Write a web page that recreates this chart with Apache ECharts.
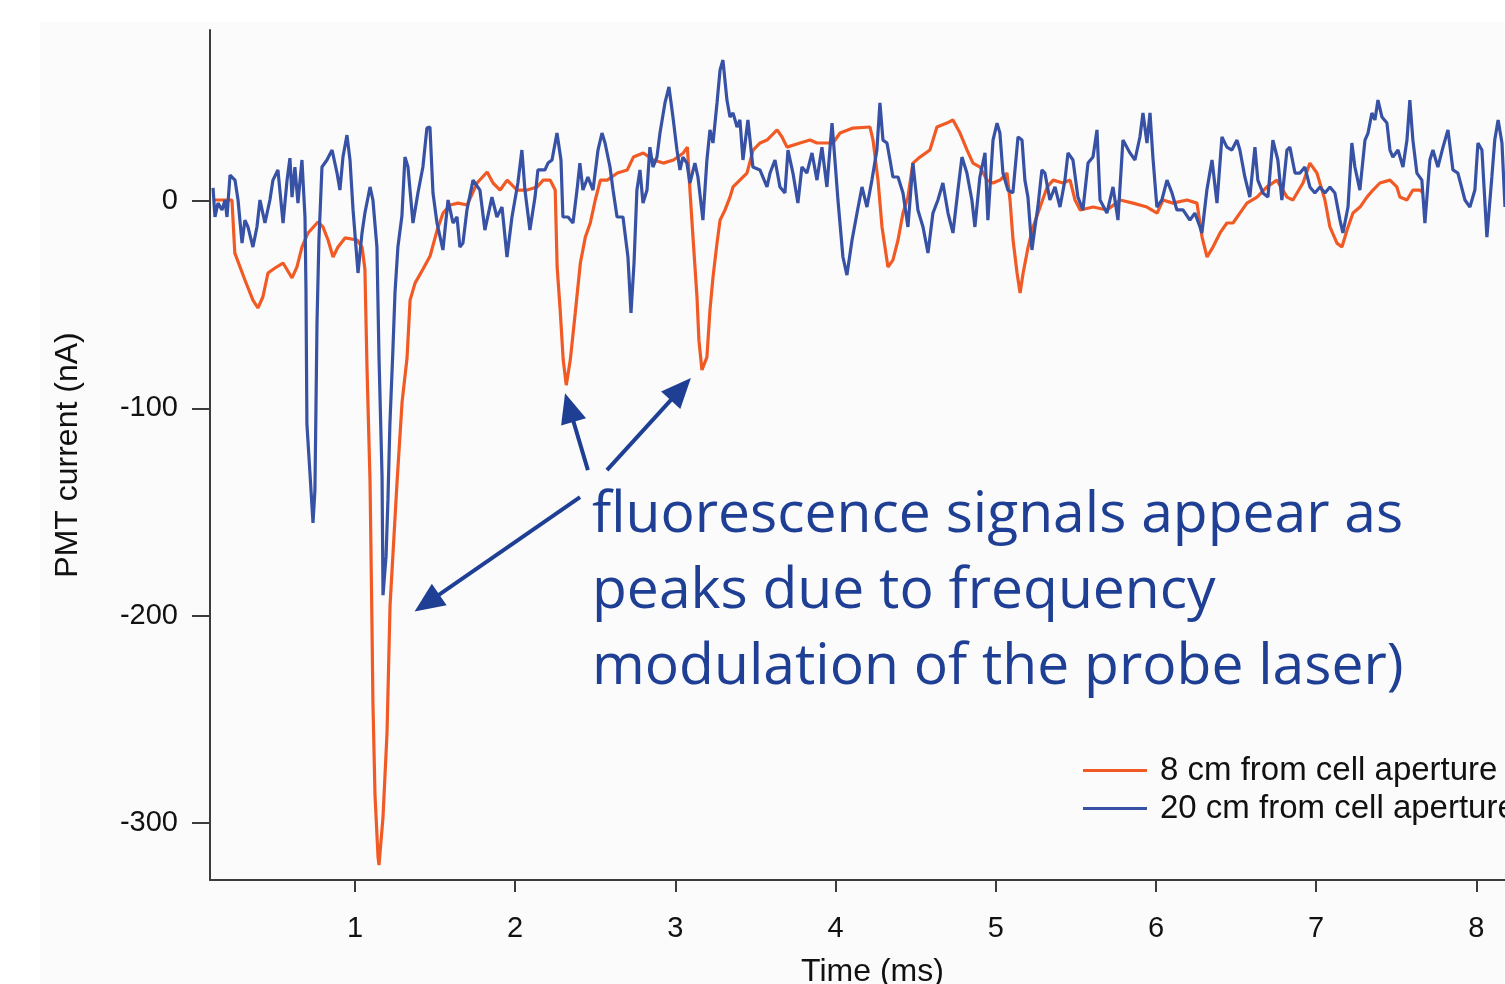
<!DOCTYPE html>
<html>
<head>
<meta charset="utf-8">
<title>PMT current vs time</title>
<script src="https://cdn.jsdelivr.net/npm/echarts@6/dist/echarts.min.js"></script>
<style>
  html, body { margin: 0; padding: 0; background: #fff; }
  .panel { position: absolute; left: 40px; top: 22px; right: 0; bottom: 0; background: #fbfbfb; }
  #chart { position: absolute; left: 0; top: 0; width: 1505px; height: 984px; }
</style>
</head>
<body>
<div class="panel"></div>
<div id="chart"></div>
<script>
// data (time in ms, current in nA)
const seriesNames = ['8 cm from cell aperture', '20 cm from cell aperture'];

const orangeTime = [0.126,0.232,0.250,0.313,0.363,0.394,0.425,0.457,0.501,0.551,
  0.607,0.638,0.669,0.707,0.769,0.800,0.832,0.863,0.894,0.938,
  1.013,1.044,1.062,1.075,1.094,1.106,1.112,1.125,1.144,1.150,
  1.175,1.200,1.219,1.263,1.294,1.325,1.344,1.375,1.425,1.469,
  1.513,1.550,1.594,1.644,1.700,1.762,1.825,1.862,1.906,1.950,
  2.012,2.075,2.137,2.175,2.218,2.250,2.262,2.281,2.300,2.319,
  2.344,2.375,2.407,2.438,2.469,2.500,2.532,2.575,2.638,2.700,
  2.738,2.800,2.863,2.925,2.988,3.050,3.075,3.091,3.110,3.135,
  3.147,3.166,3.197,3.216,3.235,3.260,3.279,3.310,3.341,3.360,
  3.447,3.485,3.529,3.572,3.635,3.666,3.697,3.778,3.841,3.884,
  3.984,4.028,4.109,4.215,4.234,4.265,4.290,4.327,4.358,4.390,
  4.421,4.452,4.483,4.527,4.589,4.633,4.695,4.733,4.777,4.821,
  4.858,4.902,4.945,4.983,5.027,5.070,5.089,5.108,5.133,5.152,
  5.171,5.202,5.233,5.277,5.321,5.358,5.420,5.464,5.495,5.527,
  5.608,5.695,5.776,5.857,5.944,6.007,6.044,6.106,6.194,6.256,
  6.288,6.319,6.356,6.400,6.443,6.481,6.524,6.568,6.631,6.693,
  6.755,6.818,6.855,6.918,6.961,7.005,7.055,7.086,7.130,7.161,
  7.193,7.230,7.274,7.317,7.355,7.398,7.461,7.504,7.523,7.567,
  7.604,7.648,7.667];
const orangeCurrent = [0.5,0.5,-25.1,-38.1,-47.8,-51.6,-46.3,-34.7,-32.3,-29.9,
  -37.1,-31.8,-22.2,-15.4,-10.1,-12.5,-18.8,-27.0,-22.2,-17.8,
  -18.8,-22.2,-32.8,-80.1,-135.1,-203.6,-241.7,-286.5,-316.4,-320.3,
  -297.2,-256.6,-194.9,-135.1,-97.0,-75.7,-47.8,-39.6,-32.8,-26.5,
  -14.0,-5.8,-1.9,-1.0,-1.9,8.7,14.0,8.7,5.3,10.1,
  5.3,5.3,6.8,10.1,10.1,5.3,-31.8,-52.6,-76.7,-88.8,
  -76.7,-54.0,-29.9,-17.4,-10.6,0.5,10.1,10.1,13.5,15.0,
  21.2,23.2,19.8,18.3,19.8,23.2,26.0,5.3,-17.4,-46.3,
  -67.1,-81.5,-75.3,-52.6,-36.7,-20.3,-9.2,-4.3,1.9,6.8,
  13.5,24.6,28.0,29.4,34.3,30.9,26.0,28.0,29.4,28.0,
  28.0,32.8,35.2,35.7,29.4,10.1,-12.5,-31.8,-28.5,-18.8,
  -5.8,1.9,18.3,21.2,24.6,35.7,37.6,39.1,32.8,24.6,
  18.3,16.4,10.1,8.7,10.1,13.5,0.5,-18.8,-34.7,-44.4,
  -34.7,-22.2,-12.5,-2.9,6.8,10.1,8.7,10.1,0.5,-4.3,
  -2.9,-4.3,0.5,-1.0,-2.9,-5.8,0.5,-1.0,0.5,-1.0,
  -17.4,-27.0,-22.2,-15.4,-10.6,-10.6,-5.8,-1.0,1.9,6.8,
  10.1,1.9,0.5,8.7,18.3,13.5,0.5,-12.5,-20.3,-22.2,
  -14.0,-5.8,-2.9,1.9,5.3,8.7,10.1,6.8,1.9,0.5,
  5.3,5.3,3.9];

const blueTime = [0.114,0.126,0.145,0.170,0.189,0.201,0.220,0.251,0.270,0.295,
  0.313,0.332,0.363,0.388,0.407,0.438,0.469,0.488,0.519,0.551,
  0.576,0.594,0.607,0.625,0.644,0.669,0.688,0.694,0.700,0.719,
  0.738,0.750,0.757,0.763,0.775,0.794,0.825,0.857,0.888,0.906,
  0.925,0.950,0.969,0.988,1.019,1.044,1.062,1.094,1.112,1.137,
  1.150,1.169,1.175,1.194,1.206,1.218,1.237,1.250,1.268,1.293,
  1.312,1.331,1.362,1.393,1.424,1.449,1.468,1.487,1.512,1.549,
  1.581,1.612,1.637,1.655,1.674,1.699,1.737,1.780,1.811,1.855,
  1.886,1.918,1.949,1.980,2.017,2.042,2.061,2.092,2.124,2.142,
  2.186,2.205,2.230,2.261,2.286,2.298,2.330,2.361,2.386,2.404,
  2.423,2.454,2.486,2.517,2.542,2.561,2.592,2.611,2.636,2.673,
  2.704,2.723,2.742,2.760,2.779,2.798,2.823,2.841,2.860,2.885,
  2.904,2.935,2.960,2.985,3.010,3.029,3.047,3.072,3.091,3.122,
  3.141,3.172,3.197,3.216,3.235,3.260,3.279,3.297,3.322,3.341,
  3.360,3.385,3.403,3.422,3.453,3.484,3.528,3.572,3.591,3.622,
  3.653,3.684,3.703,3.734,3.765,3.790,3.821,3.853,3.884,3.915,
  3.946,3.978,3.996,4.015,4.046,4.071,4.103,4.134,4.165,4.196,
  4.227,4.258,4.277,4.296,4.321,4.340,4.358,4.390,4.421,4.452,
  4.483,4.514,4.546,4.577,4.608,4.639,4.670,4.702,4.733,4.764,
  4.789,4.820,4.851,4.870,4.901,4.933,4.951,4.983,5.008,5.026,
  5.045,5.076,5.107,5.139,5.164,5.182,5.201,5.226,5.245,5.263,
  5.288,5.307,5.338,5.370,5.401,5.432,5.451,5.482,5.513,5.544,
  5.576,5.607,5.632,5.651,5.694,5.732,5.763,5.794,5.838,5.869,
  5.900,5.919,5.944,5.963,5.981,6.006,6.037,6.069,6.100,6.131,
  6.169,6.212,6.243,6.275,6.287,6.318,6.350,6.381,6.412,6.443,
  6.474,6.506,6.524,6.555,6.586,6.618,6.636,6.668,6.699,6.730,
  6.761,6.786,6.818,6.836,6.868,6.899,6.930,6.961,6.992,7.024,
  7.055,7.086,7.117,7.149,7.167,7.199,7.223,7.242,7.273,7.305,
  7.324,7.348,7.367,7.386,7.411,7.442,7.461,7.479,7.511,7.542,
  7.567,7.585,7.604,7.629,7.660,7.679,7.710,7.729,7.760,7.792,
  7.823,7.854,7.885,7.929,7.960,7.991,8.010,8.035,8.066,8.097,
  8.115,8.136,8.160,8.179];
const blueCurrent = [6.3,-7.7,-1.0,-4.3,0.5,-7.7,12.5,10.1,0.5,-20.3,
  -9.2,-12.5,-22.2,-12.5,0.5,-10.6,0.5,10.1,15.0,-10.6,
  10.1,20.7,1.9,16.4,-1.0,19.8,-7.7,-42.0,-107.6,-131.3,
  -155.3,-139.4,-96.5,-58.4,-18.8,16.4,19.8,24.6,13.5,5.3,
  21.2,31.8,19.8,-4.3,-34.7,-15.4,-5.8,6.8,0.5,-22.2,
  -75.3,-132.7,-190.1,-171.3,-143.8,-107.6,-71.4,-43.9,-22.2,-7.2,
  21.2,16.4,-10.6,3.9,16.4,35.2,35.7,3.9,-10.6,-23.6,
  0.5,-10.6,-7.7,-22.2,-20.3,-4.3,10.1,5.3,-14.0,1.9,
  -7.7,-2.9,-27.0,-7.7,8.7,24.6,5.3,-14.0,1.9,15.0,
  15.0,18.3,19.8,32.8,19.8,-7.7,-7.7,-10.6,5.3,18.3,
  5.3,11.6,5.3,24.6,32.8,28.0,16.4,5.3,-7.7,-7.7,
  -27.0,-54.0,-29.9,5.3,15.0,-1.0,5.3,26.0,16.4,21.2,
  32.8,47.3,55.0,40.5,24.6,15.0,21.2,18.3,8.7,18.3,
  11.6,-9.2,19.8,34.3,28.0,47.3,63.2,68.0,48.7,40.5,
  42.5,35.7,39.1,19.8,39.1,16.4,15.0,6.8,13.5,19.8,
  6.8,3.9,24.6,13.5,-1.0,16.4,13.5,23.2,10.1,26.0,
  6.8,37.6,19.8,0.5,-27.0,-35.7,-18.8,-5.8,6.8,-2.9,
  10.1,24.6,47.3,29.4,28.0,19.8,11.6,11.6,3.9,-12.5,
  18.3,-4.3,-12.5,-25.1,-5.8,0.5,8.7,-5.8,-15.4,5.3,
  21.2,13.5,0.5,-12.5,11.6,23.2,-9.2,29.4,37.6,32.8,
  13.5,5.3,3.9,30.9,29.4,10.1,1.9,-23.6,-12.5,-2.9,
  15.0,13.5,0.5,6.8,-2.9,10.1,23.2,19.8,1.9,-4.3,
  18.3,21.2,34.3,0.5,-5.8,6.8,-9.2,29.4,23.2,19.8,
  30.9,42.5,28.0,42.5,21.2,-2.9,0.5,10.1,3.9,-4.3,
  -4.3,-9.2,-5.8,-12.5,-15.4,5.3,19.8,-1.0,30.9,26.0,
  24.6,29.4,24.6,11.6,1.9,26.0,10.1,3.9,1.9,29.4,
  19.8,0.5,24.6,26.0,13.5,13.5,16.4,6.8,3.9,6.8,
  3.9,6.8,3.9,-9.2,-15.4,-2.9,28.0,16.4,5.3,29.4,
  32.8,42.5,39.1,48.7,40.5,37.6,24.6,21.2,24.6,16.4,
  29.4,48.7,29.4,13.5,10.1,-10.6,19.8,24.6,16.4,26.0,
  34.3,15.0,13.5,0.5,-2.9,5.3,28.0,24.6,-17.4,11.6,
  29.4,39.1,28.0,-2.9];

const xTicks = [1, 2, 3, 4, 5, 6, 7, 8];
const yTicks = [-300, -200, -100, 0];

const noteLines = ['fluorescence signals appear as', 'peaks due to frequency', 'modulation of the probe laser)'];

// annotation arrows: [from, to] in (ms, nA)
const arrows = [
  [[2.405, -142.8], [1.449, -193.9]],
  [[2.454, -129.8], [2.338, -99.6]],
  [[2.573, -129.8], [3.034, -90.7]]
];

const axisColor = '#3c3c3c';
const textColor = '#111';
const noteColor = '#1e3f94';
const orange = '#f15a24';
const blue = '#3752a5';
const font = '"Liberation Sans", Arial, sans-serif';

const pairs = (ts, vs) => ts.map((t, i) => [t, vs[i]]);

const chartInstance = echarts.init(document.getElementById('chart'));
const option = {
  animation: false,
  backgroundColor: 'transparent',
  grid: { left: 210, right: 0, top: 30, bottom: 104, containLabel: false, outerBoundsMode: 'none' },
  legend: {
    data: seriesNames,
    orient: 'vertical',
    left: 1083,
    top: 754,
    padding: 0,
    icon: 'rect',
    itemWidth: 64,
    itemHeight: 3,
    itemGap: 5,
    textStyle: { fontSize: 33, color: textColor, fontFamily: font, padding: [0, 0, 0, 8] }
  },
  xAxis: {
    type: 'value',
    min: 0.095,
    max: 8.179,
    name: 'Time (ms)',
    nameLocation: 'middle',
    nameGap: 76,
    nameTextStyle: { fontSize: 32, color: textColor, fontFamily: font, padding: [0, 0, 0, 30] },
    axisLine: { onZero: false, lineStyle: { color: axisColor, width: 2 } },
    axisTick: { customValues: xTicks, length: 12, lineStyle: { color: axisColor, width: 2 } },
    axisLabel: { customValues: xTicks, margin: 34, fontSize: 29, color: textColor, fontFamily: font },
    splitLine: { show: false }
  },
  yAxis: {
    type: 'value',
    min: -327.5,
    max: 82.5,
    name: 'PMT current (nA)',
    nameLocation: 'middle',
    nameGap: 126,
    nameTextStyle: { fontSize: 32, color: textColor, fontFamily: font },
    axisLine: { show: true, lineStyle: { color: axisColor, width: 2 } },
    axisTick: { show: true, customValues: yTicks, length: 18, lineStyle: { color: axisColor, width: 2 } },
    axisLabel: { customValues: yTicks, margin: 32, fontSize: 29, color: textColor, fontFamily: font },
    splitLine: { show: false }
  },
  series: [
    {
      name: seriesNames[0],
      type: 'line',
      data: pairs(orangeTime, orangeCurrent),
      symbol: 'none',
      lineStyle: { color: orange, width: 3.2 },
      itemStyle: { color: orange }
    },
    {
      name: seriesNames[1],
      type: 'line',
      data: pairs(blueTime, blueCurrent),
      symbol: 'none',
      lineStyle: { color: blue, width: 3.2 },
      itemStyle: { color: blue },
      markLine: {
        silent: true,
        symbol: ['none', 'triangle'],
        symbolSize: [26, 30],
        lineStyle: { color: noteColor, width: 4, type: 'solid' },
        itemStyle: { color: noteColor },
        label: { show: false },
        emphasis: { disabled: true },
        data: arrows.map(a => [{ coord: a[0] }, { coord: a[1] }])
      }
    }
  ],
  graphic: [
    {
      type: 'text',
      left: 592,
      top: 478,
      z: 100,
      style: {
        text: noteLines.join('\n'),
        fill: noteColor,
        fontSize: 57,
        fontFamily: '"Open Sans", "Noto Sans", sans-serif',
        lineHeight: 76
      }
    }
  ]
};
chartInstance.setOption(option);
window.addEventListener('resize', () => chartInstance.resize());
</script>
</body>
</html>
